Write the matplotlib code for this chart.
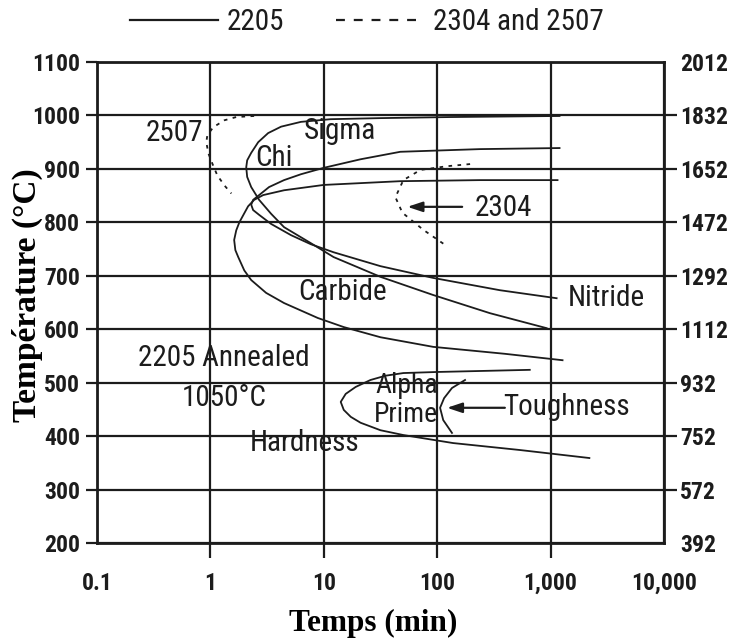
import matplotlib
matplotlib.use("Agg")
import matplotlib.pyplot as plt
from matplotlib import font_manager
from matplotlib.lines import Line2D

# ---------------- data ----------------
x_ticks = [0.1, 1, 10, 100, 1000, 10000]
x_tick_labels = ["0.1", "1", "10", "100", "1,000", "10,000"]
y_ticks = [200, 300, 400, 500, 600, 700, 800, 900, 1000, 1100]
y_tick_labels = ["200", "300", "400", "500", "600", "700", "800", "900", "1000", "1100"]
f_tick_labels = ["392", "572", "752", "932", "1112", "1292", "1472", "1652", "1832", "2012"]

# 2205 (solid)
sigma_t = [1199, 130, 31.6, 11.5, 6.29, 4.2, 3.23, 2.64, 2.29, 2.11, 2.07, 2.11, 2.29, 2.69,
           3.43, 4.46, 7.69, 12.2, 31.6, 92.2, 292, 922]
sigma_T = [999, 997, 995, 993, 988, 979, 967, 950, 930, 916, 903, 885, 866, 842,
           816, 791, 761, 735, 698, 664, 630, 602]

chi_t = [1199, 238, 47.3, 21.1, 10.0, 6.29, 4.46, 3.29, 2.69, 2.38, 2.29, 2.38, 2.69, 3.43,
         5.14, 7.69, 12.2, 31.6, 92.2, 357, 1130]
chi_T = [939, 937, 932, 918, 902, 890, 879, 866, 851, 842, 833, 823, 814, 797,
         776, 759, 744, 718, 696, 673, 658]

carbide_t = [1151, 238, 47.3, 10.0, 4.46, 2.92, 2.43, 2.15, 1.99, 1.80, 1.69, 1.62, 1.66, 1.76,
             1.99, 2.29, 3.10, 4.46, 8.86, 15.0, 31.6, 92.2, 395, 1274]
carbide_T = [879, 879, 877, 870, 860, 851, 842, 830, 817, 800, 785, 767, 748, 735,
             710, 692, 668, 649, 621, 604, 585, 567, 554, 542]

hardness_t = [655, 100, 50.3, 35.0, 25.8, 19.1, 15.6, 14.1, 15.0, 17.3, 21.1, 31.6, 50.3, 138, 535, 2197]
hardness_T = [524, 520, 518, 513, 505, 492, 479, 464, 449, 436, 425, 411, 402, 387, 374, 359]

toughness_t = [176, 135, 115, 106, 113, 135]
toughness_T = [505, 490, 471, 453, 430, 406]

# 2304 and 2507 (dashed)
a2507_t = [2.43, 1.69, 1.33, 1.06, 0.94, 0.92, 0.96, 1.04, 1.15, 1.33, 1.53]
a2507_T = [999, 997, 991, 978, 963, 950, 929, 910, 888, 869, 854]

a2304_t = [195, 122, 71, 50.3, 42.8, 49.3, 75.4, 117]
a2304_T = [909, 905, 898, 879, 847, 818, 786, 758]

# ---------------- fonts ----------------
names = {f.name for f in font_manager.fontManager.ttflist}
cond = next((n for n in ["Liberation Sans Narrow", "Arial Narrow", "Roboto Condensed",
                         "Liberation Sans"] if n in names), "DejaVu Sans")
serif = "Liberation Serif" if "Liberation Serif" in names else "DejaVu Serif"

INK = "#1c1c1c"

fig = plt.figure(figsize=(7.32, 6.41), dpi=100)
ax = fig.add_axes([97 / 732, 1 - 543 / 641, 567 / 732, 481 / 641])
ax.set_xscale("log")
ax.set_xlim(0.1, 10000)
ax.set_ylim(200, 1100)

for s in ax.spines.values():
    s.set_linewidth(2.0)
    s.set_color(INK)

ax.set_xticks(x_ticks)
ax.set_xticklabels(x_tick_labels)
ax.xaxis.set_minor_locator(matplotlib.ticker.NullLocator())
ax.set_yticks(y_ticks)
ax.set_yticklabels(y_tick_labels)
ax.grid(True, color=INK, linewidth=1.6)
ax.set_axisbelow(True)

ax.tick_params(axis="x", direction="out", length=11, width=1.6, color=INK, pad=10,
               labelsize=17, labelcolor=INK)
ax.tick_params(axis="y", direction="out", length=8, width=1.6, color=INK, pad=4,
               labelsize=17, labelcolor=INK)
for lab in ax.get_xticklabels() + ax.get_yticklabels():
    lab.set_fontfamily(cond)
    lab.set_fontweight("bold")
xt = ax.xaxis.get_major_ticks()
xt[0].tick1line.set_visible(False)
xt[-1].tick1line.set_visible(False)
yt = ax.yaxis.get_major_ticks()
yt[0].tick1line.set_visible(False)
yt[-1].tick1line.set_visible(False)

ax2 = ax.twinx()
ax2.set_ylim(200, 1100)
ax2.set_yticks(y_ticks)
ax2.set_yticklabels(f_tick_labels)
ax2.tick_params(axis="y", direction="out", length=9.5, width=1.6, color=INK, pad=2,
                labelsize=17, labelcolor=INK)
for lab in ax2.get_yticklabels():
    lab.set_fontfamily(cond)
    lab.set_fontweight("bold")
yt2 = ax2.yaxis.get_major_ticks()
yt2[0].tick2line.set_visible(False)
yt2[-1].tick2line.set_visible(False)
for s in ax2.spines.values():
    s.set_visible(False)

# curves
lw = 1.3
ax.plot(sigma_t, sigma_T, color=INK, lw=lw)
ax.plot(chi_t, chi_T, color=INK, lw=lw)
ax.plot(carbide_t, carbide_T, color=INK, lw=lw)
ax.plot(hardness_t, hardness_T, color=INK, lw=lw)
ax.plot(toughness_t, toughness_T, color=INK, lw=lw)
ax.plot(a2507_t, a2507_T, color=INK, lw=1.3, linestyle=(0, (2, 3)))
ax.plot(a2304_t, a2304_T, color=INK, lw=1.3, linestyle=(0, (2, 3)))

# labels
lab_kw = dict(fontfamily=cond, fontsize=21, color=INK, va="center")
ax.text(0.868, 967, "2507", ha="right", **lab_kw)
ax.text(13.8, 971, "Sigma", ha="center", **lab_kw)
ax.text(3.64, 920, "Chi", ha="center", **lab_kw)
ax.text(14.7, 670, "Carbide", ha="center", **lab_kw)
ax.text(3100, 658, "Nitride", ha="center", **lab_kw)
ax.text(1.30, 546, "2205 Annealed", ha="center", **lab_kw)
ax.text(1.33, 471, "1050°C", ha="center", **lab_kw)
ax.text(6.7, 387, "Hardness", ha="center", **lab_kw)
ax.text(53.5, 494, "Alpha", ha="center", fontfamily=cond, fontsize=20, color=INK, va="center")
ax.text(53.5, 440, "Prime", ha="center", fontfamily=cond, fontsize=20, color=INK, va="center")
ax.text(1380, 454, "Toughness", ha="center", **lab_kw)
ax.text(379, 827, "2304", ha="center", **lab_kw)

arrow_kw = dict(arrowstyle="-|>,head_length=0.9,head_width=0.3", color=INK, lw=1.6,
                shrinkA=0, shrinkB=0)
ax.annotate("", xy=(54.6, 829), xytext=(166, 829), arrowprops=arrow_kw)
ax.annotate("", xy=(122, 453), xytext=(395, 453), arrowprops=arrow_kw)

# axis titles
ax.set_xlabel("Temps (min)", fontfamily=serif, fontweight="bold", fontsize=22.5, color="black")
ax.xaxis.label.set_va("center")
ax.xaxis.set_label_coords(0.487, -0.168)
ax.set_ylabel("Température (°C)", fontfamily=serif, fontweight="bold", fontsize=24, color="black")
ax.yaxis.label.set_va("center")
ax.yaxis.set_label_coords(-0.1235, 0.516)

# legend
handles = [Line2D([], [], color=INK, lw=1.6),
           Line2D([], [], color=INK, lw=1.6, linestyle=(0, (4, 4)))]
leg = fig.legend(handles, ["2205", "2304 and 2507"], loc="center",
                 bbox_to_anchor=(0.501, 0.966), ncol=2, frameon=False,
                 handlelength=3.0, handletextpad=0.3, columnspacing=1.8,
                 prop=dict(family=cond, size=21))
for t in leg.get_texts():
    t.set_color(INK)

fig.savefig("out.png", dpi=100)
